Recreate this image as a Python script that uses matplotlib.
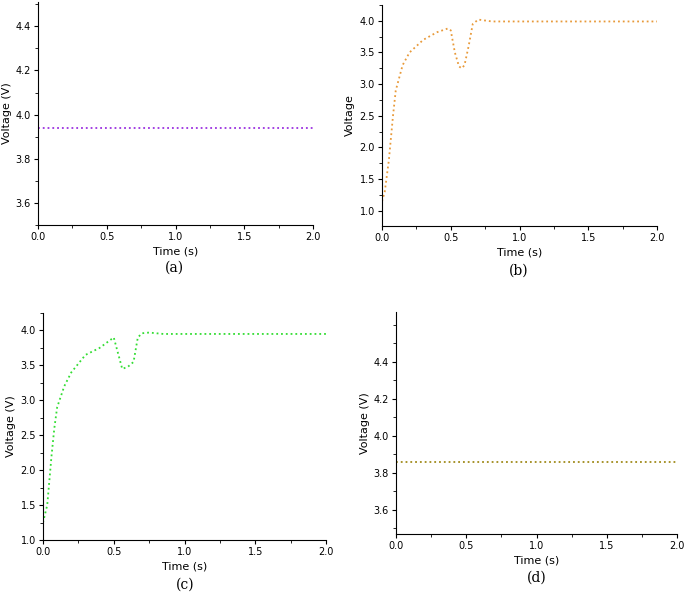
import numpy as np
import matplotlib.pyplot as plt
from matplotlib.ticker import AutoMinorLocator

W, H = 685, 595

# panel (a): constant voltage
t_a = [0.0, 2.0]
v_a = [3.94, 3.94]

# panel (b)
t_b = [0.0, 0.02, 0.05, 0.08, 0.1, 0.15, 0.2, 0.3, 0.4, 0.48, 0.5, 0.53, 0.56,
       0.58, 0.6, 0.63, 0.66, 0.7, 0.8, 2.0]
v_b = [1.15, 1.3, 1.8, 2.5, 2.9, 3.3, 3.5, 3.7, 3.82, 3.88, 3.85, 3.5, 3.28,
       3.25, 3.3, 3.6, 3.95, 4.02, 3.99, 3.99]

# panel (c)
t_c = [0.0, 0.03, 0.06, 0.08, 0.1, 0.15, 0.2, 0.3, 0.4, 0.5, 0.52, 0.56, 0.6,
       0.64, 0.67, 0.7, 0.75, 0.85, 2.0]
v_c = [1.25, 1.5, 2.2, 2.6, 2.9, 3.2, 3.4, 3.65, 3.75, 3.9, 3.75, 3.45, 3.48,
       3.55, 3.9, 3.96, 3.97, 3.95, 3.95]

# panel (d): constant voltage
t_d = [0.0, 2.0]
v_d = [3.86, 3.86]

xticks = [0.0, 0.5, 1.0, 1.5, 2.0]

fig = plt.figure(figsize=(W / 100, H / 100), dpi=100)


def panel(box, t, v, color, ylim, yticks, ylabel, caption, cap_xy):
    l, top, r, b = box
    ax = fig.add_axes([l / W, 1 - b / H, (r - l) / W, (b - top) / H])
    ax.plot(t, v, linestyle=':', color=color, linewidth=1.3)
    ax.set_xlim(0, 2.0)
    ax.set_ylim(*ylim)
    ax.set_xticks(xticks)
    ax.set_yticks(yticks)
    ax.xaxis.set_minor_locator(AutoMinorLocator(2))
    ax.yaxis.set_minor_locator(AutoMinorLocator(2))
    ax.spines['top'].set_visible(False)
    ax.spines['right'].set_visible(False)
    ax.tick_params(labelsize=7, length=3, pad=2)
    ax.tick_params(which='minor', length=2)
    ax.set_xlabel('Time (s)', fontsize=8, labelpad=3)
    ax.set_ylabel(ylabel, fontsize=8, labelpad=3)
    fig.text(cap_xy[0] / W, 1 - cap_xy[1] / H, caption, fontsize=10,
             family='serif', ha='center', va='center')
    return ax


panel((38, 2, 313, 225), t_a, v_a, '#9b30e0', (3.5, 4.51),
      [3.6, 3.8, 4.0, 4.2, 4.4], 'Voltage (V)', '(a)', (174, 268))
panel((382, 5, 657, 226), t_b, v_b, '#e89a3a', (0.76, 4.25),
      [1.0, 1.5, 2.0, 2.5, 3.0, 3.5, 4.0], 'Voltage', '(b)', (519, 271))
panel((43, 313, 326, 540), t_c, v_c, '#33dd33', (1.0, 4.25),
      [1.0, 1.5, 2.0, 2.5, 3.0, 3.5, 4.0], 'Voltage (V)', '(c)', (185, 585))
panel((396, 312, 677, 534), t_d, v_d, '#a08a1a', (3.47, 4.67),
      [3.6, 3.8, 4.0, 4.2, 4.4], 'Voltage (V)', '(d)', (537, 578))

fig.savefig('out.png', dpi=100)
